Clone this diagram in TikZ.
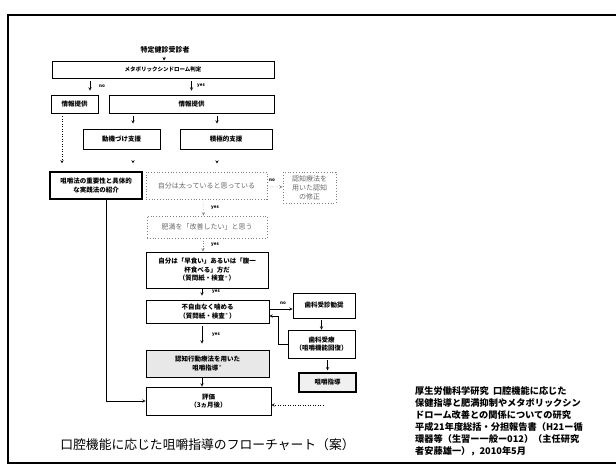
\documentclass[tikz,border=0pt]{standalone}
\usepackage{fontspec}
\setmainfont{Noto Sans CJK JP}
\usetikzlibrary{arrows, shapes}
\usetikzlibrary{positioning}

\begin{document}
\begin{tikzpicture}[x=1pt, y=-1pt, >=stealth,
		caja/.style={draw, thick, align=center, inner sep=0pt, font=\fontsize{6.5}{8.5}\selectfont\bfseries},
		gris/.style={draw=gray, dotted, thick, text=gray!80!black, align=center, inner sep=0pt, font=\fontsize{7}{9}\selectfont},
		etiq/.style={font=\fontsize{4.5}{5}\selectfont\bfseries, inner sep=1pt},
		flecha/.style={->, line width=0.5pt}]
				\useasboundingbox (0,0) rectangle (616,467);
				% Marco
				\draw[line width=1.6pt] (616,15) -- (8,15) -- (8,463) -- (616,463);
				% Nodos
				\node[font=\fontsize{7}{8}\selectfont\bfseries] (kenshin) at (165,50) {特定健診受診者};
				\node[caja, minimum width=222, minimum height=17, font=\fontsize{5.5}{7}\selectfont\bfseries] (metabo) at (163,69.5) {メタボリックシンドローム判定};
				\node[caja, minimum width=47, minimum height=18] (info1) at (74.5,104) {情報提供};
				\node[caja, minimum width=165, minimum height=18] (info2) at (191.5,104) {情報提供};
				\node[caja, minimum width=77, minimum height=20] (douki) at (121.5,139) {動機づけ支援};
				\node[caja, minimum width=92, minimum height=20] (sekkyoku) at (226,139) {積極的支援};
				\node[caja, line width=1.2pt, minimum width=92, minimum height=27] (soshaku) at (96,185.5) {咀嚼法の重要性と具体的\\な実践法の紹介};
				\node[gris, minimum width=121, minimum height=27] (futotte) at (206.5,185.5) {自分は太っていると思っている};
				\node[gris, minimum width=53, minimum height=31] (ninchi) at (309.5,187.5) {認知療法を\\用いた認知\\の修正};
				\node[gris, minimum width=120, minimum height=22] (himan) at (207,227) {肥満を「改善したい」と思う};
				\node[caja, minimum width=122, minimum height=36] (hayagui) at (207,270) {自分は「早食い」あるいは「腹一\\杯食べる」方だ\\（質問紙・検査$^{*}$）};
				\node[caja, minimum width=123, minimum height=23] (fujiyu) at (207.5,311.5) {不自由なく噛める\\（質問紙・検査$^{*}$）};
				\node[caja, minimum width=62, minimum height=25] (jushin) at (324,305.5) {歯科受診勧奨};
				\node[caja, minimum width=67, minimum height=28] (juryo) at (321.5,344) {歯科受療\\（咀嚼機能回復）};
				\node[caja, line width=1.1pt, fill=gray!12, minimum width=57, minimum height=19] (shido) at (327.5,382.5) {咀嚼指導};
				\node[caja, fill=gray!18, minimum width=123, minimum height=27] (koudou) at (207.5,363.5) {認知行動療法を用いた\\咀嚼指導$^{*}$};
				\node[caja, minimum width=125, minimum height=28] (hyoka) at (208.5,401) {評価\\（3ヵ月後）};
				% Titulos
				\node[font=\fontsize{12.8}{14}\selectfont] (titulo) at (207.5,445) {口腔機能に応じた咀嚼指導のフローチャート（案）};
				\node[anchor=north west, align=left, inner sep=0pt, font=\fontsize{9.2}{12}\selectfont\bfseries] (fuente) at (415,386) {厚生労働科学研究\ \ 口腔機能に応じた\\保健指導と肥満抑制やメタボリックシン\\ドローム改善との関係についての研究\\平成21年度総括・分担報告書（H21ー循\\環器等（生習ー一般ー012）（主任研究\\者安藤雄一），2010年5月};
				% Etiquetas
				\node[etiq] (lno1) at (102,86) {no};
				\node[etiq] (lyes1) at (201,86) {yes};
				\node[etiq] (lno2) at (272,180) {no};
				\node[etiq] (lyes2) at (215,208) {yes};
				\node[etiq] (lyes3) at (215,245) {yes};
				\node[etiq] (lyes4) at (216,292) {yes};
				\node[etiq] (lno3) at (283,303) {no};
				\node[etiq] (lyes5) at (216,335) {yes};
				\coordinate (nofuji) at (269,309);
				\coordinate (retorno) at (323,405);
				% Flechas
				\draw[flecha] (kenshin) -- (metabo);
				\draw[flecha, shorten <=3pt, shorten >=4pt] ([xshift=15.5pt]info1.north |- metabo.south) -- ([xshift=15.5pt]info1.north);
				\draw[flecha, shorten <=3pt, shorten >=4pt] (info2.north |- metabo.south) -- (info2.north);
				\draw[flecha, shorten <=3pt, shorten >=5pt] ([xshift=11.5pt]douki.north |- info2.south) -- ([xshift=11.5pt]douki.north);
				\draw[flecha, shorten <=3pt, shorten >=5pt] ([xshift=-9pt]sekkyoku.north |- info2.south) -- ([xshift=-9pt]sekkyoku.north);
				\draw[flecha, dotted, shorten <=3pt, shorten >=8pt] ([xshift=-34pt]soshaku.north |- info1.south) -- ([xshift=-34pt]soshaku.north);
				\draw[flecha, shorten <=12pt, shorten >=8pt] ([xshift=11.5pt]douki.south) -- ([xshift=37pt]soshaku.north);
				\draw[flecha, shorten <=12pt, shorten >=8pt] ([xshift=-9pt]sekkyoku.south) -- ([xshift=10.5pt]futotte.north);
				\draw[flecha, dotted, gray] (futotte) -- (ninchi);
				\draw[flecha, dotted, gray] ([xshift=-3.5pt]futotte.south) -- ([xshift=-3.5pt]himan.north);
				\draw[flecha, dotted, gray] ([xshift=-4pt]himan.south) -- ([xshift=-4pt]hayagui.north);
				\draw[flecha, shorten >=4pt] ([xshift=-5pt]hayagui.south) -- ([xshift=-5.5pt]fujiyu.north);
				\draw[flecha, shorten <=3pt, shorten >=6pt] ([xshift=-5.5pt]fujiyu.south) -- ([xshift=-5.5pt]koudou.north);
				\draw[flecha] ([xshift=-5.5pt]koudou.south) -- ([xshift=-6.5pt]hyoka.north);
				\draw[flecha] (nofuji) -- (nofuji -| jushin.west);
				\draw[flecha, shorten <=2pt] (juryo.north |- jushin.south) -- (juryo.north);
				\draw[flecha, shorten <=2pt, shorten >=2pt] (juryo.south -| shido.north) -- (shido.north);
				\draw[flecha] (juryo.west) -- ++(-9,0) |- ([yshift=-4.5pt]fujiyu.east);
				\draw[flecha] ([xshift=10pt]soshaku.south) |- (hyoka.west);
				\draw[flecha, dotted] (retorno) -- (retorno -| hyoka.east);
			\end{tikzpicture}
\end{document}
